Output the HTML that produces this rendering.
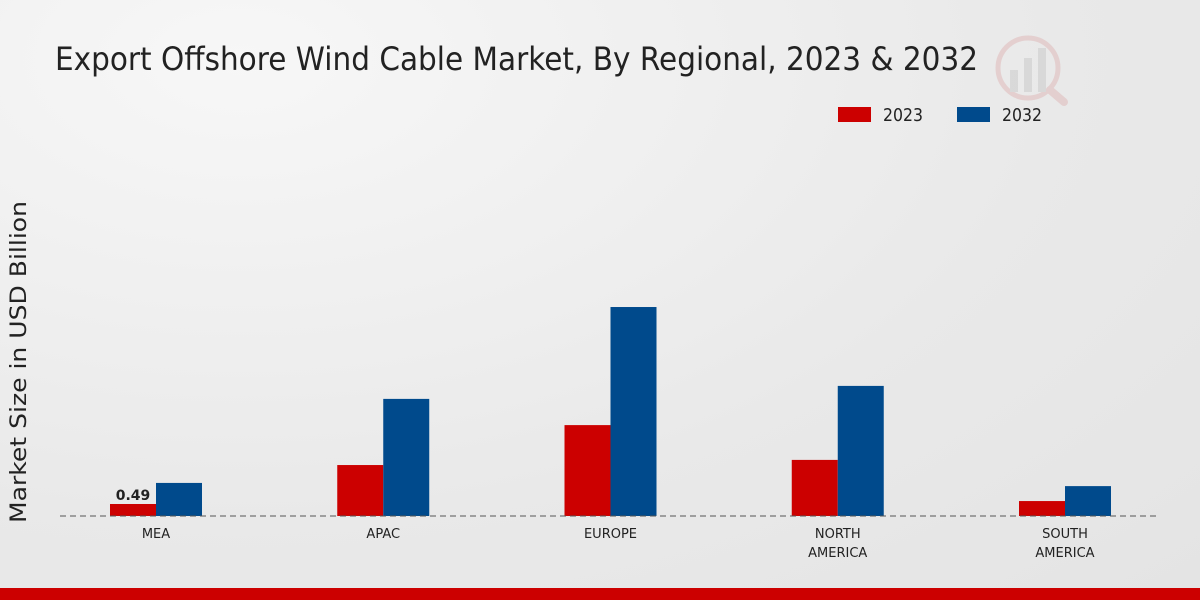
<!DOCTYPE html>
<html><head><meta charset="utf-8"><style>
html,body{margin:0;padding:0;width:1200px;height:600px;overflow:hidden;}
body{background:radial-gradient(ellipse at 20% 10%,#f7f7f7 0%,#e9e9e9 60%,#e4e4e4 100%);font-family:"DejaVu Sans","Liberation Sans",sans-serif;}
</style></head><body>
<svg width="1200" height="600" id="chart" xmlns="http://www.w3.org/2000/svg">
<text x="55" y="70" font-size="32" fill="#222" textLength="923" lengthAdjust="spacingAndGlyphs">Export Offshore Wind Cable Market, By Regional, 2023 &amp; 2032</text>
<g opacity="0.35">
<circle cx="1028" cy="68" r="30" fill="none" stroke="#d9a0a0" stroke-width="5"/>
<rect x="1010" y="70" width="8" height="22" fill="#bbb"/><rect x="1024" y="58" width="8" height="34" fill="#bbb"/><rect x="1038" y="48" width="8" height="44" fill="#bbb"/>
<line x1="1050" y1="90" x2="1064" y2="102" stroke="#d9a0a0" stroke-width="8" stroke-linecap="round"/>
</g>
<g>
<rect x="838" y="107" width="33" height="15" fill="#cc0000"/>
<text x="883" y="121" font-size="18" fill="#222" textLength="40" lengthAdjust="spacingAndGlyphs">2023</text>
<rect x="957" y="107" width="33" height="15" fill="#004a8c"/>
<text x="1002" y="121" font-size="18" fill="#222" textLength="40" lengthAdjust="spacingAndGlyphs">2032</text>
</g>
<text transform="translate(26,362) rotate(-90)" text-anchor="middle" font-size="22" fill="#222" textLength="322" lengthAdjust="spacingAndGlyphs">Market Size in USD Billion</text>
<g id="bars"></g>
<line x1="60" y1="516" x2="1160" y2="516" stroke="#555" stroke-width="1" stroke-dasharray="6,4"/>
<g id="labels"></g>
<rect x="0" y="588" width="1200" height="12" fill="#cc0000"/>
</svg>
<script>
const categories=[["MEA"],["APAC"],["EUROPE"],["NORTH","AMERICA"],["SOUTH","AMERICA"]];
const values2023=[0.49,2.08,3.71,2.29,0.61];
const values2032=[1.35,4.78,8.53,5.31,1.22];
const NS="http://www.w3.org/2000/svg";
const baseY=516, pxPerUnit=24.5, firstCenter=156, step=227.25, bw=46;
const yScale=v=>baseY-v*pxPerUnit;
const xCenter=i=>firstCenter+i*step;
const bars=document.getElementById('bars'), labels=document.getElementById('labels');
function bar(x,v,color,name){
  const r=document.createElementNS(NS,'rect');
  r.setAttribute('x',x);r.setAttribute('y',yScale(v));r.setAttribute('width',bw);r.setAttribute('height',baseY-yScale(v));r.setAttribute('fill',color);
  
  
  bars.appendChild(r);
}
categories.forEach((c,i)=>{
  const cx=xCenter(i);
  bar(cx-bw,values2023[i],'#cc0000','bar-2023-'+c.join('-').toLowerCase());
  bar(cx,values2032[i],'#004a8c','bar-2032-'+c.join('-').toLowerCase());
  c.forEach((line,j)=>{
    const t=document.createElementNS(NS,'text');
    t.setAttribute('x',cx);t.setAttribute('y',538+j*19);t.setAttribute('text-anchor','middle');t.setAttribute('font-size','13');t.setAttribute('fill','#222');
    t.textContent=line;
    
    
    labels.appendChild(t);
  });
});
const vl=document.createElementNS(NS,'text');
vl.setAttribute('x',xCenter(0)-bw/2);vl.setAttribute('y',yScale(values2023[0])-4);vl.setAttribute('text-anchor','middle');vl.setAttribute('font-size','14');vl.setAttribute('font-weight','bold');vl.setAttribute('fill','#222');
vl.textContent=values2023[0].toFixed(2);


labels.appendChild(vl);
</script>
</body></html>
